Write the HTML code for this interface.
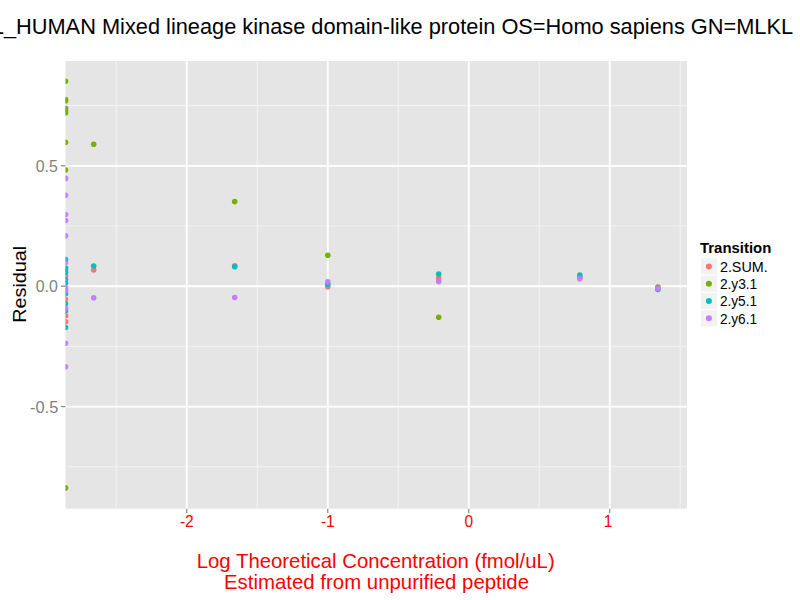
<!DOCTYPE html>
<html><head><meta charset="utf-8">
<style>
html,body{margin:0;padding:0;background:#fff;}
body{width:800px;height:600px;position:relative;overflow:hidden;font-family:"Liberation Sans",sans-serif;}
svg{position:absolute;left:0;top:0;}
.t{position:absolute;white-space:nowrap;line-height:1;transform-origin:0 0;}
</style></head><body>
<svg width="800" height="600" viewBox="0 0 800 600">
<rect x="65.5" y="61.0" width="621.50" height="447.70" fill="#E5E5E5"/>
<line x1="65.5" x2="687.0" y1="105.60" y2="105.60" stroke="#F2F2F2" stroke-width="1.1"/>
<line x1="65.5" x2="687.0" y1="226.00" y2="226.00" stroke="#F2F2F2" stroke-width="1.1"/>
<line x1="65.5" x2="687.0" y1="346.40" y2="346.40" stroke="#F2F2F2" stroke-width="1.1"/>
<line x1="65.5" x2="687.0" y1="466.80" y2="466.80" stroke="#F2F2F2" stroke-width="1.1"/>
<line y1="61.0" y2="508.7" x1="116.25" x2="116.25" stroke="#F2F2F2" stroke-width="1.1"/>
<line y1="61.0" y2="508.7" x1="257.25" x2="257.25" stroke="#F2F2F2" stroke-width="1.1"/>
<line y1="61.0" y2="508.7" x1="398.25" x2="398.25" stroke="#F2F2F2" stroke-width="1.1"/>
<line y1="61.0" y2="508.7" x1="539.25" x2="539.25" stroke="#F2F2F2" stroke-width="1.1"/>
<line y1="61.0" y2="508.7" x1="680.25" x2="680.25" stroke="#F2F2F2" stroke-width="1.1"/>
<line x1="65.5" x2="687.0" y1="165.80" y2="165.80" stroke="#FFFFFF" stroke-width="1.85"/>
<line x1="65.5" x2="687.0" y1="286.20" y2="286.20" stroke="#FFFFFF" stroke-width="1.85"/>
<line x1="65.5" x2="687.0" y1="406.60" y2="406.60" stroke="#FFFFFF" stroke-width="1.85"/>
<line y1="61.0" y2="508.7" x1="186.75" x2="186.75" stroke="#FFFFFF" stroke-width="1.85"/>
<line y1="61.0" y2="508.7" x1="327.75" x2="327.75" stroke="#FFFFFF" stroke-width="1.85"/>
<line y1="61.0" y2="508.7" x1="468.75" x2="468.75" stroke="#FFFFFF" stroke-width="1.85"/>
<line y1="61.0" y2="508.7" x1="609.75" x2="609.75" stroke="#FFFFFF" stroke-width="1.85"/>
<clipPath id="cp"><rect x="65.5" y="61.0" width="621.50" height="447.70"/></clipPath>
<g clip-path="url(#cp)">
<circle cx="65.5" cy="270" r="2.8" fill="#F8766D"/>
<circle cx="65.5" cy="276" r="2.8" fill="#F8766D"/>
<circle cx="65.5" cy="299.2" r="2.8" fill="#F8766D"/>
<circle cx="65.5" cy="315.8" r="2.8" fill="#F8766D"/>
<circle cx="65.5" cy="321.7" r="2.8" fill="#F8766D"/>
<circle cx="93.7" cy="270" r="2.8" fill="#F8766D"/>
<circle cx="234.7" cy="265.9" r="2.8" fill="#F8766D"/>
<circle cx="327.8" cy="286.7" r="2.8" fill="#F8766D"/>
<circle cx="438.7" cy="278.1" r="2.8" fill="#F8766D"/>
<circle cx="579.8" cy="277" r="2.8" fill="#F8766D"/>
<circle cx="657.9" cy="288.5" r="2.8" fill="#F8766D"/>
<circle cx="65.5" cy="81.2" r="2.8" fill="#7CAE00"/>
<circle cx="65.5" cy="99.6" r="2.8" fill="#7CAE00"/>
<circle cx="65.5" cy="101.0" r="2.8" fill="#7CAE00"/>
<circle cx="65.5" cy="108.2" r="2.8" fill="#7CAE00"/>
<circle cx="65.5" cy="110.6" r="2.8" fill="#7CAE00"/>
<circle cx="65.5" cy="113.0" r="2.8" fill="#7CAE00"/>
<circle cx="65.5" cy="142.2" r="2.8" fill="#7CAE00"/>
<circle cx="65.5" cy="170" r="2.8" fill="#7CAE00"/>
<circle cx="65.5" cy="487.9" r="2.8" fill="#7CAE00"/>
<circle cx="93.7" cy="144.2" r="2.8" fill="#7CAE00"/>
<circle cx="234.7" cy="201.6" r="2.8" fill="#7CAE00"/>
<circle cx="327.8" cy="255.2" r="2.8" fill="#7CAE00"/>
<circle cx="438.7" cy="317.2" r="2.8" fill="#7CAE00"/>
<circle cx="579.8" cy="277" r="2.8" fill="#7CAE00"/>
<circle cx="657.9" cy="287.0" r="2.8" fill="#7CAE00"/>
<circle cx="65.5" cy="259.5" r="2.8" fill="#00BFC4"/>
<circle cx="65.5" cy="268" r="2.8" fill="#00BFC4"/>
<circle cx="65.5" cy="272.5" r="2.8" fill="#00BFC4"/>
<circle cx="65.5" cy="279.6" r="2.8" fill="#00BFC4"/>
<circle cx="65.5" cy="283" r="2.8" fill="#00BFC4"/>
<circle cx="65.5" cy="293.75" r="2.8" fill="#00BFC4"/>
<circle cx="65.5" cy="303.75" r="2.8" fill="#00BFC4"/>
<circle cx="65.5" cy="310.8" r="2.8" fill="#00BFC4"/>
<circle cx="65.5" cy="327.5" r="2.8" fill="#00BFC4"/>
<circle cx="93.7" cy="266" r="2.8" fill="#00BFC4"/>
<circle cx="234.7" cy="266.7" r="2.8" fill="#00BFC4"/>
<circle cx="327.8" cy="284.2" r="2.8" fill="#00BFC4"/>
<circle cx="438.7" cy="274" r="2.8" fill="#00BFC4"/>
<circle cx="579.8" cy="275" r="2.8" fill="#00BFC4"/>
<circle cx="657.9" cy="289.5" r="2.8" fill="#00BFC4"/>
<circle cx="65.5" cy="178.4" r="2.8" fill="#C77CFF"/>
<circle cx="65.5" cy="195.2" r="2.8" fill="#C77CFF"/>
<circle cx="65.5" cy="214.5" r="2.8" fill="#C77CFF"/>
<circle cx="65.5" cy="220.5" r="2.8" fill="#C77CFF"/>
<circle cx="65.5" cy="235.8" r="2.8" fill="#C77CFF"/>
<circle cx="65.5" cy="262.5" r="2.8" fill="#C77CFF"/>
<circle cx="65.5" cy="287.5" r="2.8" fill="#C77CFF"/>
<circle cx="65.5" cy="290.8" r="2.8" fill="#C77CFF"/>
<circle cx="65.5" cy="308.3" r="2.8" fill="#C77CFF"/>
<circle cx="65.5" cy="343.3" r="2.8" fill="#C77CFF"/>
<circle cx="65.5" cy="366.7" r="2.8" fill="#C77CFF"/>
<circle cx="93.7" cy="297.8" r="2.8" fill="#C77CFF"/>
<circle cx="234.7" cy="297.5" r="2.8" fill="#C77CFF"/>
<circle cx="327.8" cy="281.7" r="2.8" fill="#C77CFF"/>
<circle cx="438.7" cy="281.6" r="2.8" fill="#C77CFF"/>
<circle cx="579.8" cy="278.7" r="2.8" fill="#C77CFF"/>
<circle cx="657.9" cy="288.3" r="2.8" fill="#C77CFF"/>
</g>
<line x1="61" x2="65.5" y1="165.80" y2="165.80" stroke="#7F7F7F" stroke-width="1.1"/>
<line x1="61" x2="65.5" y1="286.20" y2="286.20" stroke="#7F7F7F" stroke-width="1.1"/>
<line x1="61" x2="65.5" y1="406.60" y2="406.60" stroke="#7F7F7F" stroke-width="1.1"/>
<line y1="508.7" y2="513.00" x1="186.75" x2="186.75" stroke="#7F7F7F" stroke-width="1.1"/>
<line y1="508.7" y2="513.00" x1="327.75" x2="327.75" stroke="#7F7F7F" stroke-width="1.1"/>
<line y1="508.7" y2="513.00" x1="468.75" x2="468.75" stroke="#7F7F7F" stroke-width="1.1"/>
<line y1="508.7" y2="513.00" x1="609.75" x2="609.75" stroke="#7F7F7F" stroke-width="1.1"/>
<rect x="700.5" y="257.80" width="17.28" height="17.28" fill="#F2F2F2" stroke="#FFFFFF" stroke-width="1.1"/>
<circle cx="708.9" cy="266.44" r="3.0" fill="#F8766D"/>
<rect x="700.5" y="275.08" width="17.28" height="17.28" fill="#F2F2F2" stroke="#FFFFFF" stroke-width="1.1"/>
<circle cx="708.9" cy="283.72" r="3.0" fill="#7CAE00"/>
<rect x="700.5" y="292.36" width="17.28" height="17.28" fill="#F2F2F2" stroke="#FFFFFF" stroke-width="1.1"/>
<circle cx="708.9" cy="301.00" r="3.0" fill="#00BFC4"/>
<rect x="700.5" y="309.64" width="17.28" height="17.28" fill="#F2F2F2" stroke="#FFFFFF" stroke-width="1.1"/>
<circle cx="708.9" cy="318.28" r="3.0" fill="#C77CFF"/>
</svg>
<div class="t" id="title" style="left:0;top:0;font-size:22.3px;color:#000;transform:translate(16.02px,15.00px) scale(0.9767,1.0300);">HUMAN Mixed lineage kinase domain-like protein OS=Homo sapiens GN=MLKL<span style="position:absolute;right:100%;top:0">MLKL_</span></div>
<div class="t" id="ylab" style="left:0;top:0;font-size:19.5px;color:#000;transform:translate(10.23px,322.81px) scale(0.9667,1.0149) rotate(-90deg);">Residual</div>
<div class="t" id="y1" style="left:0;top:0;font-size:15.5px;color:#7F7F7F;transform:translate(35.75px,157.91px) scale(1.0238,1.0650);">0.5</div>
<div class="t" id="y2" style="left:0;top:0;font-size:15.5px;color:#7F7F7F;transform:translate(35.75px,278.31px) scale(1.0238,1.0650);">0.0</div>
<div class="t" id="y3" style="left:0;top:0;font-size:15.5px;color:#7F7F7F;transform:translate(30.00px,398.70px) scale(1.0577,1.1000);">-0.5</div>
<div class="t" id="x1" style="left:0;top:0;font-size:15.5px;color:#FF0000;transform:translate(179.90px,512.70px) scale(1.0077,1.1000);">-2</div>
<div class="t" id="x2" style="left:0;top:0;font-size:15.5px;color:#FF0000;transform:translate(320.90px,512.70px) scale(1.0077,1.1000);">-1</div>
<div class="t" id="x3" style="left:0;top:0;font-size:15.5px;color:#FF0000;transform:translate(464.45px,512.73px) scale(1.0000,1.0900);">0</div>
<div class="t" id="x4" style="left:0;top:0;font-size:15.5px;color:#FF0000;transform:translate(603.65px,512.70px) scale(1.0000,1.1000);">1</div>
<div class="t" id="xt1" style="left:0;top:0;font-size:20.4px;color:#FF0000;transform:translate(196.75px,551.34px) scale(0.9972,0.9789);">Log Theoretical Concentration (fmol/uL)</div>
<div class="t" id="xt2" style="left:0;top:0;font-size:20.4px;color:#FF0000;transform:translate(224.00px,572.27px) scale(1.0003,0.9632);">Estimated from unpurified peptide</div>
<div class="t" id="lt" style="left:0;top:0;font-size:14.6px;color:#000;font-weight:bold;transform:translate(700.00px,241.00px) scale(1.0217,1.0000);">Transition</div>
<div class="t" id="l1" style="left:0;top:0;font-size:14.2px;color:#000;transform:translate(719.90px,258.82px) scale(1.0109,1.0900);">2.SUM.</div>
<div class="t" id="l2" style="left:0;top:0;font-size:14.2px;color:#000;transform:translate(719.90px,277.04px) scale(0.9658,0.9808);">2.y3.1</div>
<div class="t" id="l3" style="left:0;top:0;font-size:14.2px;color:#000;transform:translate(719.90px,294.04px) scale(0.9605,0.9808);">2.y5.1</div>
<div class="t" id="l4" style="left:0;top:0;font-size:14.2px;color:#000;transform:translate(719.90px,311.92px) scale(0.9605,0.9885);">2.y6.1</div>
</body></html>
